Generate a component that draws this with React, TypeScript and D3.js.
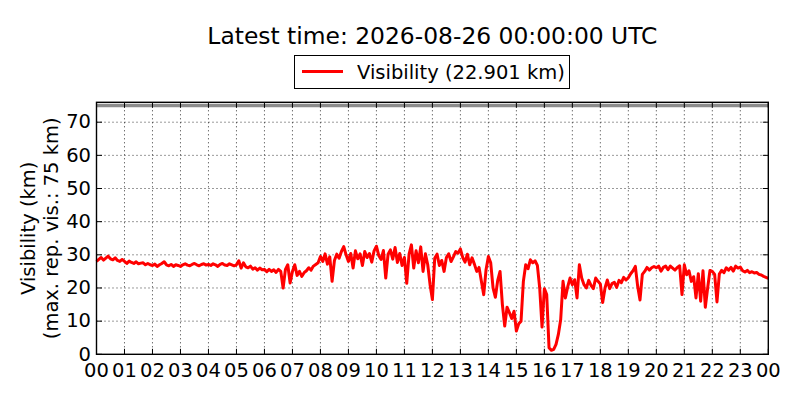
import React, { useEffect, useRef } from 'react';
import * as d3 from 'd3';

// visibility in km, one value every 5 minutes from 00:00 to 24:00 UTC
const STEP_MIN = 5;
const START = '2026-08-25T00:00:00Z';
const MAX_VIS = 75;
const TITLE = 'Latest time: 2026-08-26 00:00:00 UTC';
const YTICKS = [0, 10, 20, 30, 40, 50, 60, 70];

const visibility = [
  28, 28.6, 29.2, 28.4, 29, 29.6, 28.8, 28.5, 29.1, 28.3, 28, 28.6, // 00
  28, 27.4, 28.1, 27.7, 27.4, 27.9, 27.3, 27.5, 27.6, 27, 27.4, 27, // 01
  26.8, 27.2, 26.5, 27, 27.4, 27.9, 27, 26.7, 27.1, 26.5, 27, 26.8, // 02
  26.5, 27, 27.3, 26.9, 26.7, 27.1, 27.4, 27, 26.7, 27.1, 27.3, 26.9, // 03
  27.1, 26.8, 27.3, 27, 26.5, 27.1, 27.4, 26.9, 26.8, 27.3, 27, 26.7, // 04
  27, 28.2, 26, 27.6, 26.4, 26.1, 26.6, 25.7, 26.1, 25.4, 26, 25.5, // 05
  25.6, 24.9, 25.6, 25, 25.5, 24.7, 25.6, 25, 20, 25.6, 27, 21.5, // 06
  25, 27, 23.8, 25, 23.5, 24.6, 25.2, 26.1, 25.4, 26.6, 27.1, 27.6, // 07
  29.5, 28, 30.3, 27.2, 29.4, 22, 28.3, 30.2, 29, 31, 32.5, 30, // 08
  28, 30.4, 26, 31.2, 28.8, 30.3, 26.8, 31, 29.2, 30.4, 27.8, 31.2, // 09
  32.6, 29.8, 28.6, 31.3, 23, 30.2, 31.5, 28.7, 32.2, 27.7, 30.4, 26.8, // 10
  29.2, 21.4, 30.2, 33, 26, 31.2, 27.6, 32.4, 25, 30.3, 27, 21, // 11
  16.5, 29, 30.2, 26.8, 28.3, 25, 29.2, 30.3, 28, 29.4, 31, 30.5, // 12
  31.8, 29.2, 27.8, 30.2, 27, 29.1, 27.2, 25, 26.2, 22, 18, 25.5, // 13
  29.5, 27.6, 20, 17.2, 22.3, 25, 15, 8.5, 14.2, 12.6, 10.8, 13, // 14
  7, 9.2, 10, 22, 27, 25.8, 28.5, 27.6, 28.2, 26.8, 20, 8.2, // 15
  19.8, 18, 2, 1.2, 1.5, 3, 6, 10.5, 22, 17, 20.3, 23, // 16
  21, 22.5, 17, 27, 23, 21, 20, 22.3, 20.8, 19.8, 23, 22, // 17
  21.2, 15.6, 20, 22.4, 19.8, 21.3, 21.7, 20.2, 22.3, 21.6, 23.2, 22.4, // 18
  23.1, 24.3, 25.2, 26.5, 20.5, 16.4, 24.1, 25, 26.2, 25.4, 26.1, 26.5, // 19
  26.1, 26.6, 25.1, 26.2, 26.6, 25.5, 26.6, 26, 25.4, 26.2, 26.7, 18, // 20
  27, 24, 25.2, 22, 23.4, 17, 24.3, 16, 25.2, 14.2, 20, 25.3, // 21
  25, 24.1, 15.8, 24.2, 25.3, 24.6, 26.1, 25.4, 26.2, 25.1, 26.6, 26, // 22
  26.3, 25.2, 24.8, 25.3, 24.6, 24.9, 24.5, 24.7, 24.1, 23.9, 23.5, 23.2, // 23
  22.901,
];

const font = 'DejaVu Sans, sans-serif';
const fs = 19.5;

const App: React.FC = () => {
  const ref = useRef<SVGSVGElement>(null);

  useEffect(() => {
    document.body.style.margin = '0';
    if (!ref.current) return;
    const svg = d3.select(ref.current);
    svg.selectAll('*').remove();

    const left = 96.5, right = 768.3, top = 102.3, bottom = 354.3;
    const t0 = new Date(START);
    const t1 = d3.utcDay.offset(t0, 1);
    const data = visibility.map((v, i) => ({ date: d3.utcMinute.offset(t0, i * STEP_MIN), value: v }));
    const last = visibility[visibility.length - 1];

    const x = d3.scaleUtc().domain([t0, t1]).range([left, right]);
    const y = d3.scaleLinear().domain([0, 76]).range([bottom, top]);
    const hours = d3.utcHour.range(t0, d3.utcHour.offset(t1, 1));

    svg.append('rect').attr('x', 0).attr('y', 0).attr('width', 800).attr('height', 400).attr('fill', '#fff');

    // grid
    const grid = svg.append('g').attr('stroke', '#000').attr('stroke-width', 0.8).attr('stroke-dasharray', '1,3');
    grid.selectAll('line.v').data(hours.slice(1, -1)).join('line')
      .attr('x1', d => x(d)).attr('x2', d => x(d)).attr('y1', top).attr('y2', bottom);
    grid.selectAll('line.h').data(YTICKS.slice(1)).join('line')
      .attr('x1', left).attr('x2', right).attr('y1', d => y(d)).attr('y2', d => y(d));

    // max representable visibility
    svg.append('line')
      .attr('x1', left).attr('x2', right).attr('y1', y(MAX_VIS)).attr('y2', y(MAX_VIS))
      .attr('stroke', '#8c8c8c').attr('stroke-width', 3.5);

    svg.append('path')
      .datum(data)
      .attr('fill', 'none')
      .attr('stroke', '#ff0000')
      .attr('stroke-width', 3)
      .attr('stroke-linejoin', 'round')
      .attr('d', d3.line<{ date: Date; value: number }>().x(d => x(d.date)).y(d => y(d.value)));

    // inward ticks on all four sides
    const ticks = svg.append('g').attr('stroke', '#000').attr('stroke-width', 1);
    hours.forEach(h => {
      ticks.append('line').attr('x1', x(h)).attr('x2', x(h)).attr('y1', bottom).attr('y2', bottom - 5.5);
      ticks.append('line').attr('x1', x(h)).attr('x2', x(h)).attr('y1', top).attr('y2', top + 5.5);
    });
    YTICKS.forEach(v => {
      ticks.append('line').attr('x1', left).attr('x2', left + 5.5).attr('y1', y(v)).attr('y2', y(v));
      ticks.append('line').attr('x1', right).attr('x2', right - 5.5).attr('y1', y(v)).attr('y2', y(v));
    });

    svg.append('rect')
      .attr('x', left).attr('y', top).attr('width', right - left).attr('height', bottom - top)
      .attr('fill', 'none').attr('stroke', '#000').attr('stroke-width', 1.4);

    // tick labels
    svg.append('g').selectAll('text').data(hours).join('text')
      .attr('x', d => x(d)).attr('y', 377)
      .attr('text-anchor', 'middle').attr('font-family', font).attr('font-size', fs)
      .text(d => d3.utcFormat('%H')(d));
    svg.append('g').selectAll('text').data(YTICKS).join('text')
      .attr('x', 91).attr('y', d => y(d)).attr('dy', '0.32em')
      .attr('text-anchor', 'end').attr('font-family', font).attr('font-size', fs)
      .text(d => d);

    // y label
    const cy = (top + bottom) / 2;
    svg.append('text')
      .attr('transform', `translate(35,${cy}) rotate(-90)`)
      .attr('text-anchor', 'middle').attr('font-family', font).attr('font-size', fs)
      .text('Visibility (km)');
    svg.append('text')
      .attr('transform', `translate(57.5,${cy}) rotate(-90)`)
      .attr('text-anchor', 'middle').attr('font-family', font).attr('font-size', fs)
      .text(`(max. rep. vis.: ${MAX_VIS} km)`);

    // title
    const cx = (left + right) / 2;
    svg.append('text')
      .attr('x', cx).attr('y', 43.5)
      .attr('text-anchor', 'middle').attr('font-family', font).attr('font-size', fs * 1.2)
      .text(TITLE);

    // legend
    svg.append('rect')
      .attr('x', 294.5).attr('y', 55.5).attr('width', 275).attr('height', 33)
      .attr('fill', '#fff').attr('stroke', '#000').attr('stroke-width', 1);
    svg.append('line')
      .attr('x1', 302).attr('x2', 343).attr('y1', 71.5).attr('y2', 71.5)
      .attr('stroke', '#ff0000').attr('stroke-width', 3);
    svg.append('text')
      .attr('x', 357).attr('y', 71.5).attr('dy', '0.36em')
      .attr('font-family', font).attr('font-size', fs)
      .text(`Visibility (${last.toFixed(3)} km)`);
  }, []);

  return <svg ref={ref} width={800} height={400} style={{ display: 'block' }} />;
};

export default App;
